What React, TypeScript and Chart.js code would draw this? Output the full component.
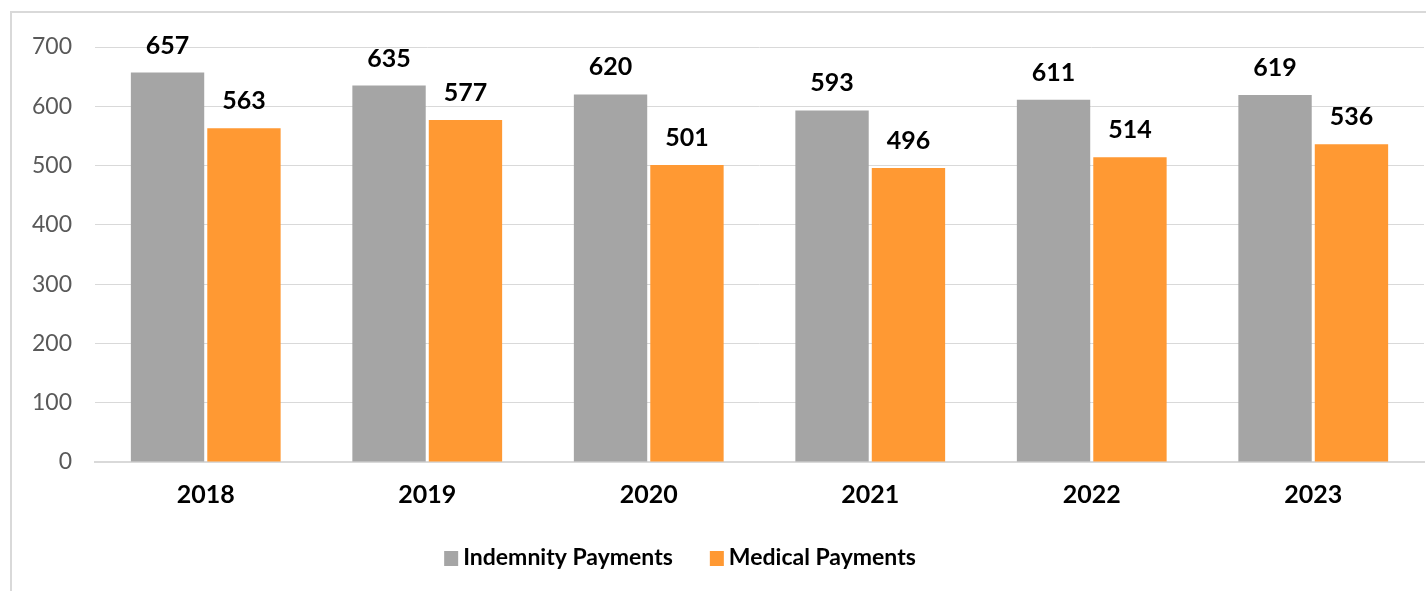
import React, { useEffect, useRef } from "react";
import { Chart, registerables } from "chart.js";

Chart.register(...registerables);

const categories = ["2018", "2019", "2020", "2021", "2022", "2023"];
const indemnityPayments = [657, 635, 620, 593, 611, 619];
const medicalPayments = [563, 577, 501, 496, 514, 536];
const seriesLabels = ["Indemnity Payments", "Medical Payments"];
const seriesColors = ["#A5A5A5", "#FF9933"];

const FONT = "Lato, 'Open Sans', sans-serif";

const framePlugin = {
  id: "frame",
  beforeDraw(chart: any) {
    const ctx = chart.ctx;
    ctx.save();
    ctx.strokeStyle = "#D9D9D9";
    ctx.lineWidth = 2;
    ctx.strokeRect(11, 12, 3000, 3000);
    ctx.restore();
  },
};

const valueLabelPlugin = {
  id: "valueLabels",
  afterDatasetsDraw(chart: any) {
    const ctx = chart.ctx;
    ctx.save();
    ctx.font = `bold 25px ${FONT}`;
    ctx.fillStyle = "#000000";
    ctx.textAlign = "center";
    ctx.textBaseline = "middle";
    chart.data.datasets.forEach((ds: any, i: number) => {
      const meta = chart.getDatasetMeta(i);
      meta.data.forEach((bar: any, j: number) => {
        ctx.fillText(String(ds.data[j]), bar.x, bar.y - 27);
      });
    });
    ctx.restore();
  },
};

const legendPlugin = {
  id: "customLegend",
  afterDraw(chart: any) {
    const ctx = chart.ctx;
    ctx.save();
    ctx.font = `bold 23px ${FONT}`;
    ctx.textBaseline = "middle";
    ctx.textAlign = "left";
    const box = 14;
    const gapText = 5;
    const gapItem = 37;
    const items = chart.data.datasets.map((ds: any) => ({
      label: ds.label,
      color: ds.backgroundColor,
      w: ctx.measureText(ds.label).width,
    }));
    const total =
      items.reduce((s: number, it: any) => s + box + gapText + it.w, 0) +
      gapItem * (items.length - 1);
    let x = 680 - total / 2;
    const y = 558;
    items.forEach((it: any) => {
      ctx.fillStyle = it.color;
      ctx.fillRect(x, y - 7, box, 15);
      x += box + gapText;
      ctx.fillStyle = "#000000";
      ctx.fillText(it.label, x, y);
      x += it.w + gapItem;
    });
    ctx.restore();
  },
};

export default function App() {
  const canvasRef = useRef<HTMLCanvasElement | null>(null);

  useEffect(() => {
    if (!canvasRef.current) return;
    const chart = new Chart(canvasRef.current, {
      type: "bar",
      data: {
        labels: categories,
        datasets: [
          {
            label: seriesLabels[0],
            data: indemnityPayments,
            backgroundColor: seriesColors[0],
            categoryPercentage: 0.69,
            barPercentage: 0.96,
          },
          {
            label: seriesLabels[1],
            data: medicalPayments,
            backgroundColor: seriesColors[1],
            categoryPercentage: 0.69,
            barPercentage: 0.96,
          },
        ],
      },
      options: {
        responsive: true,
        maintainAspectRatio: false,
        animation: false,
        layout: { padding: { top: 47, right: 2, left: 0, bottom: 0 } },
        plugins: {
          legend: { display: false },
          tooltip: { enabled: false },
        },
        scales: {
          x: {
            grid: { display: false, drawTicks: false },
            border: { display: true, color: "#D9D9D9", width: 2 },
            ticks: {
              color: "#000000",
              font: { family: FONT, size: 25, weight: "bold" },
              padding: 18,
            },
            afterFit(scale: any) {
              scale.height = 129;
            },
          },
          y: {
            min: 0,
            max: 700,
            grid: { color: "#D9D9D9", lineWidth: 1, drawTicks: false },
            border: { display: false },
            ticks: {
              stepSize: 100,
              color: "#595959",
              font: { family: FONT, size: 23 },
              padding: 23,
            },
            afterFit(scale: any) {
              scale.width = 95;
            },
          },
        },
      },
      plugins: [framePlugin, valueLabelPlugin, legendPlugin],
    });
    return () => chart.destroy();
  }, []);

  return (
    <div
      style={{
        position: "fixed",
        left: 0,
        top: 0,
        width: 1426,
        height: 591,
        overflow: "hidden",
        background: "#FFFFFF",
      }}
    >
      <canvas ref={canvasRef} />
    </div>
  );
}
